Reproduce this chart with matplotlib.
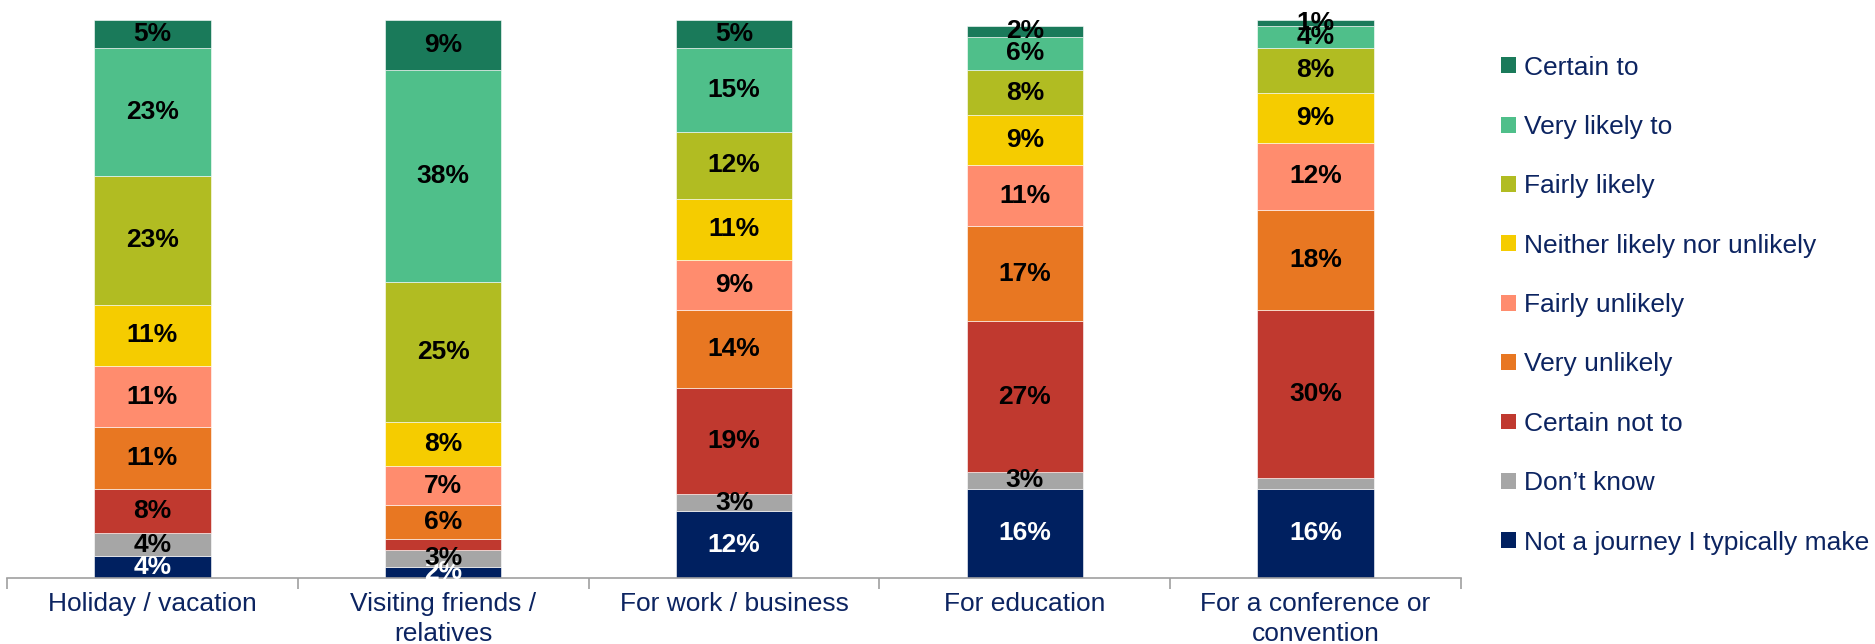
import matplotlib
matplotlib.use("Agg")
import matplotlib.pyplot as plt
from matplotlib.patches import Patch
import numpy as np

plt.rcParams["font.family"] = ["Liberation Sans", "DejaVu Sans"]

categories = ["Holiday / vacation", "Visiting friends /\nrelatives", "For work / business",
              "For education", "For a conference or\nconvention"]

# responses, listed bottom of the stack first
responses = ["Not a journey I typically make", "Don\u2019t know", "Certain not to",
             "Very unlikely", "Fairly unlikely", "Neither likely nor unlikely",
             "Fairly likely", "Very likely to", "Certain to"]

not_a_journey = [4, 2, 12, 16, 16]
dont_know = [4, 3, 3, 3, 2]
certain_not = [8, 2, 19, 27, 30]
very_unlikely = [11, 6, 14, 17, 18]
fairly_unlikely = [11, 7, 9, 11, 12]
neither = [11, 8, 11, 9, 9]
fairly_likely = [23, 25, 12, 8, 8]
very_likely = [23, 38, 15, 6, 4]
certain_to = [5, 9, 5, 2, 1]

series = [not_a_journey, dont_know, certain_not, very_unlikely, fairly_unlikely,
          neither, fairly_likely, very_likely, certain_to]

colors = ["#002060", "#A6A6A6", "#C0392F", "#E87722", "#FF8C6E",
          "#F5CC00", "#B1BC22", "#4FBF8A", "#1A7A5A"]

# segments whose value labels are left off
hidden_labels = {(1, 2), (4, 1)}

NAVY = "#0C2461"

fig = plt.figure(figsize=(18.75, 6.44), dpi=100)
ax = fig.add_axes([0.0037, 0.1025, 0.7755, 0.8665])

x = np.arange(len(categories))
bottom = np.zeros(len(categories))
for si, (vals, col) in enumerate(zip(series, colors)):
    vals = np.array(vals, dtype=float)
    ax.bar(x, vals, width=0.4, bottom=bottom, color=col, edgecolor="white",
           linewidth=0.4, label=responses[si])
    for ci, v in enumerate(vals):
        if (ci, si) in hidden_labels:
            continue
        ax.text(x[ci], bottom[ci] + v / 2, f"{int(v)}%", ha="center", va="center",
                fontsize=19, fontweight="bold",
                color="white" if si == 0 else "black")
    bottom += vals

ax.set_xlim(-0.5, len(categories) - 0.5)
ax.set_ylim(0, 100)
ax.set_yticks([])
for side in ["left", "right", "top"]:
    ax.spines[side].set_visible(False)
ax.spines["bottom"].set_color("#A0A0A0")
ax.spines["bottom"].set_linewidth(1.2)

ax.set_xticks(x)
ax.set_xticklabels(categories, fontsize=19, color=NAVY, linespacing=1.3)
ax.tick_params(axis="x", which="major", length=0, pad=10)
ax.set_xticks(np.arange(len(categories) + 1) - 0.5, minor=True)
ax.tick_params(axis="x", which="minor", length=8, width=1.2, color="#A0A0A0")

handles = [Patch(facecolor=c, edgecolor="none") for c in colors][::-1]
leg = fig.legend(handles, responses[::-1], loc="upper left",
                 bbox_to_anchor=(0.795, 0.93), frameon=False, fontsize=19,
                 handlelength=0.55, handleheight=0.55, handletextpad=0.3,
                 labelspacing=1.34, borderaxespad=0)
for t in leg.get_texts():
    t.set_color(NAVY)

fig.savefig("out.png", dpi=100)
